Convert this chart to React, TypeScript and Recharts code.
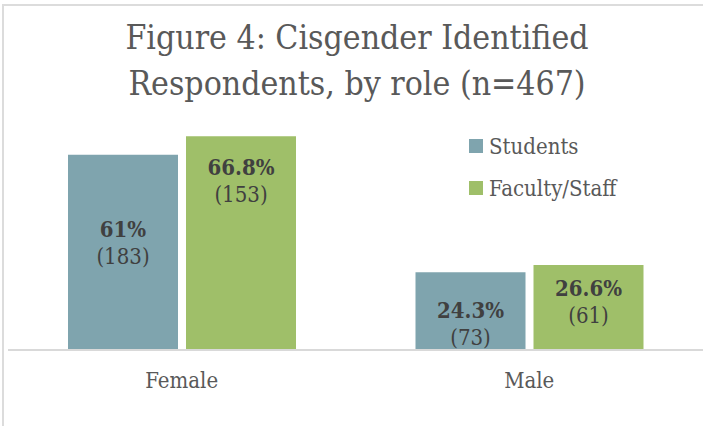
import { BarChart, Bar, XAxis, YAxis, LabelList } from 'recharts';

const categories = ['Female', 'Male'];
const studentPct = [61, 24.3];
const studentCount = [183, 73];
const facultyPct = [66.8, 26.6];
const facultyCount = [153, 61];
const seriesNames = ['Students', 'Faculty/Staff'];

const data = categories.map((role, i) => ({
  role,
  students: studentPct[i],
  faculty: facultyPct[i],
}));

const FONT = "'DejaVu Serif Condensed', 'DejaVu Serif', serif";
const TEXT = '#595959';
const LABEL = '#404040';
const STUDENT_COLOR = '#7fa4ae';
const FACULTY_COLOR = '#9fbf69';

// distance from bar top to first label baseline, hand-placed like the original
const labelOffset: { [key: string]: number[] } = {
  students: [82, 46],
  faculty: [39, 31],
};

function makeLabel(key: string, counts: number[]) {
  return (props: any) => {
    const { x, y, width, value, index } = props;
    const cx = x + width / 2;
    const base = y + labelOffset[key][index];
    return (
      <g>
        <text x={cx} y={base} textAnchor="middle" fontFamily={FONT} fontStretch="condensed" fontSize={22} fontWeight="bold" fill={LABEL}>
          {`${value}%`}
        </text>
        <text x={cx} y={base + 27} textAnchor="middle" fontFamily={FONT} fontStretch="condensed" fontSize={22} fill={LABEL}>
          {`(${counts[index]})`}
        </text>
      </g>
    );
  };
}

function CategoryTick(props: any) {
  const { x, y, payload } = props;
  return (
    <text x={x} y={y + 38} textAnchor="middle" fontFamily={FONT} fontStretch="condensed" fontSize={22} fill={TEXT}>
      {payload.value}
    </text>
  );
}

function LegendBox() {
  const colors = [STUDENT_COLOR, FACULTY_COLOR];
  return (
    <div style={{ position: 'absolute', left: 469, top: 125, fontFamily: FONT, fontStretch: 'condensed', fontSize: 22, color: TEXT }}>
      {seriesNames.map((name, i) => (
        <div key={name} style={{ display: 'flex', alignItems: 'center', height: 42 }}>
          <span style={{ display: 'inline-block', width: 14, height: 14, background: colors[i], marginRight: 6 }} />
          <span>{name}</span>
        </div>
      ))}
    </div>
  );
}

export default function App() {
  return (
    <div style={{ position: 'absolute', left: 0, top: 0, width: 703, height: 426, background: '#fff', overflow: 'hidden' }}>
      <div style={{ position: 'absolute', left: 2, top: 4, width: 720, height: 440, borderTop: '2px solid #dcdcdc', borderLeft: '2px solid #dcdcdc' }} />
      <div
        style={{
          position: 'absolute',
          left: 0,
          top: 15,
          width: 714,
          textAlign: 'center',
          fontFamily: FONT,
          fontStretch: 'condensed',
          fontSize: 33.5,
          lineHeight: '46px',
          color: TEXT,
        }}
      >
        Figure 4: Cisgender Identified
        <br />
        Respondents, by role (n=467)
      </div>
      <BarChart
        width={703}
        height={426}
        data={data}
        margin={{ top: 94, right: 0, bottom: 46, left: 8 }}
        barSize={110}
        barGap={8}
        style={{ position: 'absolute', left: 0, top: 0 }}
      >
        <YAxis hide domain={[0, 80]} />
        <XAxis
          dataKey="role"
          height={30}
          tickLine={false}
          axisLine={{ stroke: '#d9d9d9', strokeWidth: 2 }}
          tick={<CategoryTick />}
          tickSize={0}
          tickMargin={0}
          interval={0}
        />
        <Bar dataKey="students" name={seriesNames[0]} fill={STUDENT_COLOR} isAnimationActive={false}>
          <LabelList dataKey="students" content={makeLabel('students', studentCount)} />
        </Bar>
        <Bar dataKey="faculty" name={seriesNames[1]} fill={FACULTY_COLOR} isAnimationActive={false}>
          <LabelList dataKey="faculty" content={makeLabel('faculty', facultyCount)} />
        </Bar>
      </BarChart>
      <LegendBox />
    </div>
  );
}
